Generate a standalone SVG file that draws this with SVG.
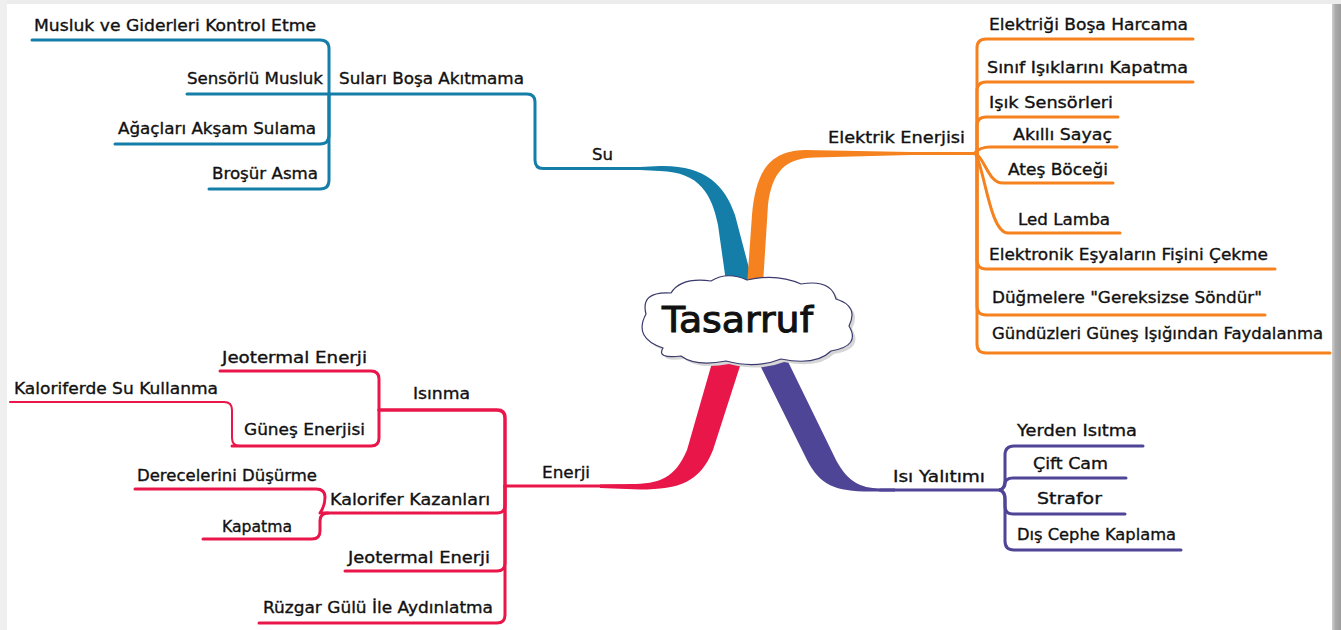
<svg xmlns="http://www.w3.org/2000/svg" width="1341" height="630" viewBox="0 0 1341 630">
<style>
.t{font-family:"DejaVu Sans","Liberation Sans",sans-serif;font-size:16px;fill:#111;stroke:#111;stroke-width:0.35}
.blue{fill:none;stroke:#157ea8;stroke-width:3;stroke-linecap:round;stroke-linejoin:round}
.orange{fill:none;stroke:#f5821f;stroke-width:3;stroke-linecap:round;stroke-linejoin:round}
.red{fill:none;stroke:#e9164a;stroke-width:3;stroke-linecap:round;stroke-linejoin:round}
.purple{fill:none;stroke:#4e4596;stroke-width:3;stroke-linecap:round;stroke-linejoin:round}
</style>
<defs>
<linearGradient id="rs" x1="0" y1="0" x2="1" y2="0">
<stop offset="0" stop-color="#cfcfcf"/><stop offset="0.4" stop-color="#a9a9a9"/><stop offset="1" stop-color="#9c9c9c"/>
</linearGradient>
</defs>
<rect x="0" y="0" width="1341" height="630" fill="#ffffff"/>
<rect x="0" y="0" width="1341" height="4" fill="#ececec"/>
<rect x="0" y="0" width="7" height="630" fill="#efefef"/>
<rect x="1332" y="4" width="9" height="626" fill="url(#rs)"/>

<g id="connectors">
<!-- Su -->
<path class="blue" d="M32 40 H320 Q329 40 329 49 V94"/>
<path class="blue" d="M187 94 H329"/>
<path class="blue" d="M115 144 H320 Q329 144 329 135 V94"/>
<path class="blue" d="M209 189 H320 Q329 189 329 180 V94"/>
<path class="blue" d="M329 94 H527 Q535 94 535 102 V160 Q535 168.5 543 168.5 H665"/>
<path fill="#157ea8" d="M640 167 L660 166 C705 165 725 185 735 215 L760 310 L730 310 L718 225 C712 195 700 172 660 171 L640 170 Z"/>
<!-- Elektrik -->
<path class="orange" d="M900 153.5 H977"/>
<path fill="#f5821f" d="M910 152 L805 150 C770 151 756 170 752 215 L746 300 L762 300 L768 205 C772 172 785 158 815 157.5 L910 155 Z"/>
<path class="orange" d="M977 153 V48 Q977 39 986 39 H1193"/>
<path class="orange" d="M977 153 V91 Q977 82 986 82 H1193"/>
<path class="orange" d="M977 153 V126 Q977 117 986 117 H1118"/>
<path class="orange" d="M975 153 Q980 147 990 147 H1117"/>
<path class="orange" d="M975 153 C985 158 988 183 1003 183 H1113"/>
<path class="orange" d="M975 153 C985 170 990 233 1008 233 H1120"/>
<path class="orange" d="M977 153 V260 Q977 269 986 269 H1275"/>
<path class="orange" d="M977 153 V306 Q977 315 986 315 H1265"/>
<path class="orange" d="M977 153 V344 Q977 353 986 353 H1330"/>
<!-- Enerji -->
<path fill="#e9164a" d="M600 484.5 L630 484 C660 484 675 478 687 450 L720 335 L750 335 L713 450 C700 482 680 489.5 640 489.5 L600 488 Z"/>
<path class="red" d="M505 486 H620"/>
<path class="red" style="stroke-width:3.5" d="M379 410 H497 Q505 410 505 418 V486"/>
<path class="red" d="M220 371 H371 Q379 371 379 379 V410"/>
<path class="red" d="M232 446 H371 Q379 446 379 438 V410"/>
<path class="red" style="stroke-width:2" d="M10 402 H224 Q232 402 232 410 V438 Q232 446 240 446"/>
<path class="red" d="M322 513 H497 Q505 513 505 505 V486"/>
<path class="red" d="M135 489 H316 Q325 489 325 497 Q325 506 320 513"/>
<path class="red" d="M203 539 H312 Q320 539 320 531 V521 Q320 513 328 513"/>
<path class="red" d="M345 571 H497 Q505 571 505 563 V486"/>
<path class="red" d="M259 623 H497 Q505 623 505 615 V486"/>
<!-- Isi Yalitimi -->
<path fill="#4e4596" d="M745 335 L807 460 C820 485 835 491.5 870 491.5 L895 491.5 L895 488.5 L880 488.5 C860 488 848 482 836 460 L775 335 Z"/>
<path class="purple" d="M880 490 H1000"/>
<path class="purple" d="M1000 490 Q1005 488 1005 480 V455 Q1005 446 1014 446 H1143"/>
<path class="purple" d="M1000 490 Q1005 488 1005 484 Q1005 478 1013 478 H1126"/>
<path class="purple" d="M1000 490 Q1005 492 1005 498 V506 Q1005 514 1013 514 H1125"/>
<path class="purple" d="M1000 490 Q1005 492 1005 500 V541 Q1005 550 1014 550 H1181"/>
</g>

<g id="center">
<path d="M663 348 Q633 338 646 314 Q640 291 671 293 Q681 277 711 281 Q727 271 747 280 Q777 273 801 284 Q831 279 836 299 Q859 306 849 326 Q861 346 831 351 Q816 366 781 359 Q756 369 726 361 Q696 367 681 356 Q656 359 663 348 Z" fill="#d6d6d6" transform="translate(3 3)"/>
<path d="M663 348 Q633 338 646 314 Q640 291 671 293 Q681 277 711 281 Q727 271 747 280 Q777 273 801 284 Q831 279 836 299 Q859 306 849 326 Q861 346 831 351 Q816 366 781 359 Q756 369 726 361 Q696 367 681 356 Q656 359 663 348 Z" fill="#ffffff" stroke="#3a3a6e" stroke-width="1.2"/>
<text class="t" x="662" y="332" style="font-size:36px;stroke-width:1" textLength="151" lengthAdjust="spacingAndGlyphs">Tasarruf</text>
</g>

<g id="su">
<text class="t" x="592" y="160" textLength="21" lengthAdjust="spacingAndGlyphs">Su</text>
<text class="t" x="339" y="84" textLength="185" lengthAdjust="spacingAndGlyphs">Suları Boşa Akıtmama</text>
<text class="t" x="34" y="31" textLength="282" lengthAdjust="spacingAndGlyphs">Musluk ve Giderleri Kontrol Etme</text>
<text class="t" x="187" y="84" textLength="136" lengthAdjust="spacingAndGlyphs">Sensörlü Musluk</text>
<text class="t" x="118" y="134" textLength="198" lengthAdjust="spacingAndGlyphs">Ağaçları Akşam Sulama</text>
<text class="t" x="212" y="179" textLength="106" lengthAdjust="spacingAndGlyphs">Broşür Asma</text>
</g>

<g id="elektrik">
<text class="t" x="828" y="143" textLength="137" lengthAdjust="spacingAndGlyphs">Elektrik Enerjisi</text>
<text class="t" x="989" y="30" textLength="199" lengthAdjust="spacingAndGlyphs">Elektriği Boşa Harcama</text>
<text class="t" x="987" y="73" textLength="201" lengthAdjust="spacingAndGlyphs">Sınıf Işıklarını Kapatma</text>
<text class="t" x="989" y="108" textLength="124" lengthAdjust="spacingAndGlyphs">Işık Sensörleri</text>
<text class="t" x="1013" y="140" textLength="99" lengthAdjust="spacingAndGlyphs">Akıllı Sayaç</text>
<text class="t" x="1008" y="175" textLength="100" lengthAdjust="spacingAndGlyphs">Ateş Böceği</text>
<text class="t" x="1018" y="225" textLength="92" lengthAdjust="spacingAndGlyphs">Led Lamba</text>
<text class="t" x="989" y="260" textLength="279" lengthAdjust="spacingAndGlyphs">Elektronik Eşyaların Fişini Çekme</text>
<text class="t" x="992" y="303" textLength="270" lengthAdjust="spacingAndGlyphs">Düğmelere "Gereksizse Söndür"</text>
<text class="t" x="992" y="339" textLength="331" lengthAdjust="spacingAndGlyphs">Gündüzleri Güneş Işığından Faydalanma</text>
</g>

<g id="enerji">
<text class="t" x="542" y="478" textLength="48" lengthAdjust="spacingAndGlyphs">Enerji</text>
<text class="t" x="413" y="399" textLength="57" lengthAdjust="spacingAndGlyphs">Isınma</text>
<text class="t" x="222" y="363" textLength="145" lengthAdjust="spacingAndGlyphs">Jeotermal Enerji</text>
<text class="t" x="14" y="394" textLength="204" lengthAdjust="spacingAndGlyphs">Kaloriferde Su Kullanma</text>
<text class="t" x="244" y="435" textLength="121" lengthAdjust="spacingAndGlyphs">Güneş Enerjisi</text>
<text class="t" x="330" y="505" textLength="160" lengthAdjust="spacingAndGlyphs">Kalorifer Kazanları</text>
<text class="t" x="137" y="481" textLength="180" lengthAdjust="spacingAndGlyphs">Derecelerini Düşürme</text>
<text class="t" x="222" y="532" textLength="70" lengthAdjust="spacingAndGlyphs">Kapatma</text>
<text class="t" x="348" y="563" textLength="142" lengthAdjust="spacingAndGlyphs">Jeotermal Enerji</text>
<text class="t" x="263" y="613" textLength="230" lengthAdjust="spacingAndGlyphs">Rüzgar Gülü İle Aydınlatma</text>
</g>

<g id="isi">
<text class="t" x="893" y="482" textLength="92" lengthAdjust="spacingAndGlyphs">Isı Yalıtımı</text>
<text class="t" x="1017" y="436" textLength="120" lengthAdjust="spacingAndGlyphs">Yerden Isıtma</text>
<text class="t" x="1033" y="469" textLength="75" lengthAdjust="spacingAndGlyphs">Çift Cam</text>
<text class="t" x="1037" y="504" textLength="65" lengthAdjust="spacingAndGlyphs">Strafor</text>
<text class="t" x="1017" y="540" textLength="159" lengthAdjust="spacingAndGlyphs">Dış Cephe Kaplama</text>
</g>
</svg>
